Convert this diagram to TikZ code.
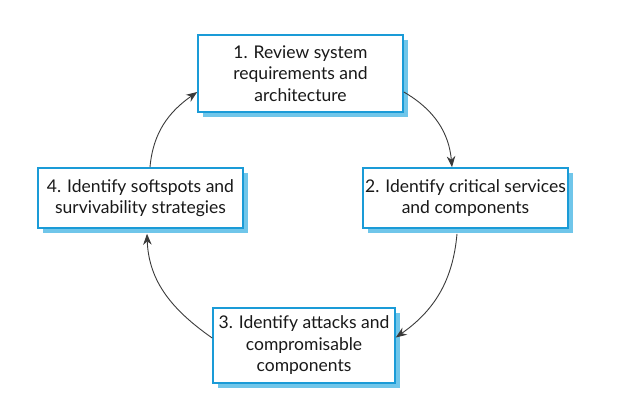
\documentclass[tikz,border=0pt]{standalone}
\usepackage{fontspec}
\setmainfont{Lato}
\usetikzlibrary{arrows.meta,shadows}
\definecolor{boxblue}{HTML}{1A9BD7}
\definecolor{shadowblue}{HTML}{70C6EA}
\definecolor{arrowgray}{HTML}{3A3A3A}
\tikzset{
  stagebox/.style={draw=boxblue, line width=1.6pt, fill=white, align=center,
    inner sep=0pt, font=\fontsize{17.5}{21.5}\selectfont, text=black!90,
    drop shadow={shadow xshift=5pt, shadow yshift=-5pt, opacity=1, fill=shadowblue}},
  flow/.style={draw=arrowgray, line width=0.9pt, -{Stealth[length=11pt,width=8.5pt]}}
}
\begin{document}
\begin{tikzpicture}[x=1pt,y=-1pt]
\useasboundingbox (0,0) rectangle (640,419);
\node[stagebox, minimum width=205pt, minimum height=77pt] (b1) at (300.5,73.5)
  {1. Review system\\requirements and\\architecture};
\node[stagebox, minimum width=205pt, minimum height=60pt] (b2) at (465.5,198)
  {2. Identify critical services\\and components};
\node[stagebox, minimum width=182pt, minimum height=75pt] (b3) at (304,345.5)
  {3. Identify attacks and\\compromisable\\components};
\node[stagebox, minimum width=205pt, minimum height=60pt] (b4) at (140.5,198)
  {4. Identify softspots and\\survivability strategies};
\draw[flow] ([yshift=-18.5pt]b1.east) to[out=-30,in=95] ([xshift=-13.5pt]b2.north);
\draw[flow] ([xshift=-8.5pt,yshift=-5pt]b2.south) to[out=-95,in=35] ([yshift=8pt]b3.east);
\draw[flow] ([yshift=7.5pt]b3.west) to[out=145,in=-88] ([xshift=6.5pt,yshift=-5pt]b4.south);
\draw[flow] ([xshift=9.5pt]b4.north) to[out=85,in=-145] ([yshift=-18.5pt]b1.west);
\end{tikzpicture}
\end{document}
